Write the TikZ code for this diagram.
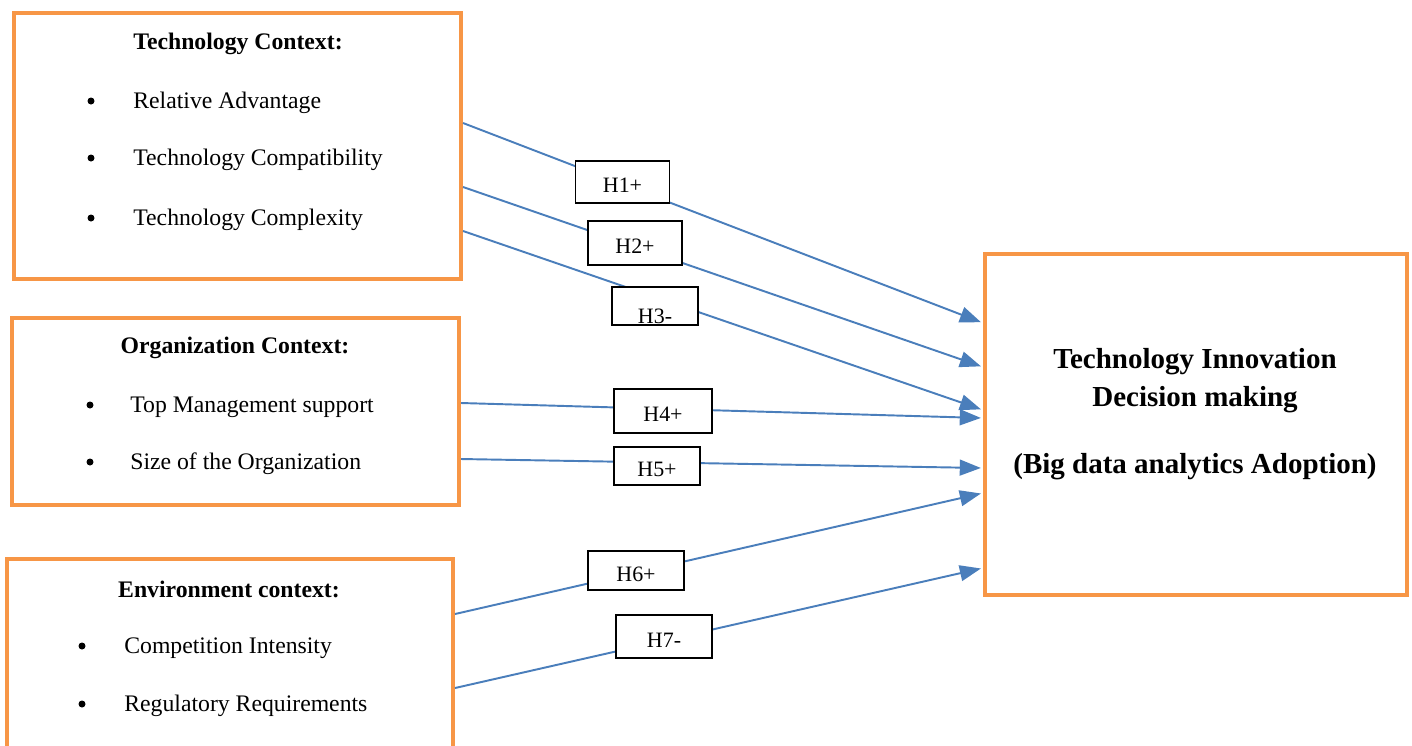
\documentclass[tikz,border=0pt]{standalone}
\usepackage{fontspec}
\setmainfont{Liberation Serif}
\usetikzlibrary{positioning,arrows.meta,fit}
\definecolor{ctxorange}{HTML}{F79646}
\definecolor{linkblue}{HTML}{4A7EBB}

\begin{document}
\begin{tikzpicture}[x=0.02cm, y=-0.02cm, font=\fontsize{13.5}{16}\selectfont, >={Triangle[length=12pt,width=9pt]}]
\tikzset{ctx/.style={draw=ctxorange, line width=2.3pt, inner sep=0pt},head/.style={font=\fontsize{13.5}{16}\selectfont\bfseries},item/.style={anchor=west, inner sep=0pt},dot/.style={circle, fill, inner sep=0pt, minimum size=0.14cm},hlab/.style={draw, fill=white, line width=0.6pt, minimum width=1.88cm, minimum height=0.84cm, inner sep=0pt, text height=12pt, text depth=0pt, font=\fontsize{12.5}{14}\selectfont},link/.style={->, color=linkblue, line width=1.1pt, shorten >=1.2pt},big/.style={font=\fontsize{16.5}{20}\selectfont\bfseries}}
\useasboundingbox (0,0) rectangle (1412,745); \clip (0,0) rectangle (1412,745);
% context boxes
\node[ctx, fit={(14,13) (461,279)}] (tech) {};
\node[ctx, fit={(12,318) (459,505)}] (org) {};
\node[ctx, fit={(7,559) (453,760)}] (env) {};
\node[ctx, fit={(985,254) (1407,595)}] (tid) {};
\node[head] (techhead) at (238,44) {Technology Context:};
\node[dot] at (91,101) {}; \node[item] (ra) at (133,103) {Relative Advantage};
\node[dot] at (91,158) {}; \node[item] (tcomp) at (133,160) {Technology Compatibility};
\node[dot] at (91,218) {}; \node[item] (tcplx) at (133,220) {Technology Complexity};
\node[head] (orghead) at (235,348) {Organization Context:};
\node[dot] at (90,405) {}; \node[item] (tms) at (130,407) {Top Management support};
\node[dot] at (90,462) {}; \node[item] (size) at (130,464) {Size of the Organization};
\node[head] (envhead) at (229,589) {Environment context:};
\node[dot] at (82,646) {}; \node[item] (ci) at (124,648) {Competition Intensity};
\node[dot] at (82,704) {}; \node[item] (rr) at (124,706) {Regulatory Requirements};
\node[big] (tidA) at (1195,362) {Technology Innovation};
\node[big] (tidB) at (1195,400) {Decision making};
\node[big] (tidC) at (1195,467) {(Big data analytics Adoption)};
% hypotheses
\draw[link] (tech.east |- 0,123) -- (tid.west |- 0,323);
\draw[link] (tech.east |- 0,187) -- (tid.west |- 0,367);
\draw[link] (tech.east |- 0,231) -- (tid.west |- 0,410);
\draw[link] (org.east |- 0,403) -- (tid.west |- 0,418);
\draw[link] (org.east |- 0,459) -- (tid.west |- 0,468);
\draw[link] (env.east |- 0,614) -- (tid.west |- 0,493);
\draw[link] (env.east |- 0,688) -- (tid.west |- 0,568);
\node[hlab] (h1) at (622.5,182) {H1+};
\node[hlab, minimum height=0.88cm] (h2) at (635,243) {H2+};
\node[hlab, minimum width=1.72cm, minimum height=0.76cm, path picture={\node[font=\fontsize{12.5}{14}\selectfont] at ([yshift=-4pt]path picture bounding box.center) {H3-};}] (h3) at (655,306) {};
\node[hlab, minimum width=1.96cm, minimum height=0.88cm] (h4) at (663,411) {H4+};
\node[hlab, minimum width=1.72cm, minimum height=0.76cm] (h5) at (657,466) {H5+};
\node[hlab, minimum width=1.92cm, minimum height=0.78cm] (h6) at (636,570.5) {H6+};
\node[hlab, minimum width=1.92cm, minimum height=0.86cm] (h7) at (664,636.5) {H7-};
\end{tikzpicture}
\end{document}
